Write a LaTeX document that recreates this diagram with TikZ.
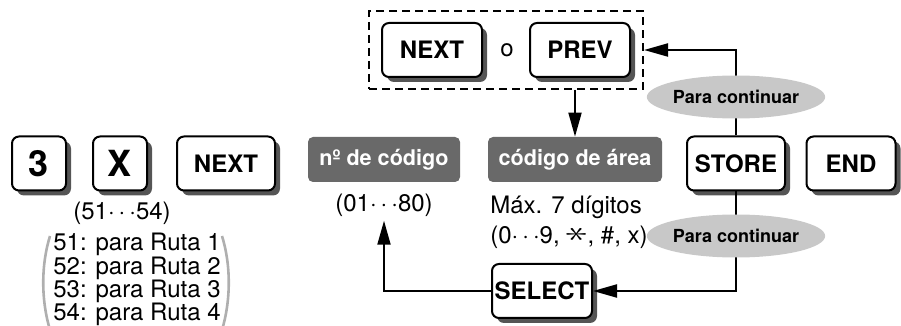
\documentclass[tikz,border=0pt]{standalone}
\usepackage{graphicx}
\usepackage{fontspec}
\setmainfont{TeX Gyre Heros}
\usetikzlibrary{positioning,arrows.meta,shadows,fit,shapes.geometric}
\definecolor{keyshadow}{RGB}{85,85,85}
\definecolor{fieldgray}{RGB}{105,105,105}
\definecolor{notegray}{RGB}{200,200,200}
\definecolor{parengray}{RGB}{175,175,175}
\newcommand{\starkey}{\raisebox{0.15ex}{\scalebox{1.9}[1.35]{\rotatebox[origin=c]{90}{$\ast$}}}}

\begin{document}
\begin{tikzpicture}[x=0.5pt,y=-0.5pt,
  >={Triangle[length=12pt,width=6.5pt]},
  key/.style={draw,line width=1pt,rounded corners=3.5pt,fill=white,minimum height=27pt,inner sep=0pt,
    font=\fontsize{12}{14}\selectfont\bfseries,
    drop shadow={shadow xshift=2.5pt,shadow yshift=-2.5pt,fill=keyshadow,opacity=1}},
  bigkey/.style={key,minimum width=27pt,font=\fontsize{18}{20}\selectfont\bfseries},
  field/.style={fill=fieldgray,text=white,rounded corners=2.5pt,minimum height=22.5pt,inner sep=0pt,
    font=\fontsize{10.8}{12}\selectfont\bfseries},
  note/.style={ellipse,fill=notegray,minimum width=71.5pt,minimum height=21.5pt,inner sep=0pt,
    font=\fontsize{9}{10}\selectfont\bfseries},
  txt/.style={font=\fontsize{12}{14}\selectfont,inner sep=0pt},
  flow/.style={line width=1pt},
  paren/.style={parengray,line width=1.3pt}
]
\useasboundingbox (0,0) rectangle (901,326);

% keys of the main row
\node[bigkey] (k3) at (39,163.5) {3};
\node[bigkey] (kx) at (120,163.5) {X};
\node[key,minimum width=49pt] (knext) at (226,163.5) {NEXT};
\node[field,minimum width=76pt] (code) at (384,159.5) {nº de código};
\node[field,minimum width=87pt] (area) at (575,159.5) {código de área};
\node[key,minimum width=49pt] (store) at (736,163.5) {STORE};
\node[key,minimum width=44.5pt] (kend) at (851,163.5) {END};

% choice NEXT o PREV
\node[key,minimum width=50pt] (nexttop) at (432,50) {NEXT};
\node[txt] (or) at (507,50) {o};
\node[key,minimum width=50pt] (prev) at (580,50) {PREV};
\node[draw,dashed,line width=1pt,dash pattern=on 4pt off 2.5pt,fit=(nexttop)(prev),
      inner xsep=6pt,inner ysep=5.5pt] (choice) {};

\node[key,minimum width=50pt] (select) at (542,291) {SELECT};

% texts under the keys
\node[txt] (range) at (122,213) {(51$\cdots$54)};
\node[txt,align=left,anchor=north west,font=\fontsize{12}{11.65}\selectfont] (list) at (53,233)
  {51: para Ruta 1\\52: para Ruta 2\\53: para Ruta 3\\54: para Ruta 4};
\draw[paren] (50,236) .. controls (41,265) and (41,300) .. (50,330);
\draw[paren] (222,236) .. controls (231,265) and (231,300) .. (222,330);
\node[txt,inner sep=2pt] (codeval) at (384,205) {(01$\cdots$80)};
\node[txt,align=left,anchor=north west,font=\fontsize{12}{15}\selectfont] (digits) at (490,196)
  {Máx. 7 dígitos\\(0$\cdots$9, \starkey, \#, x)};

% connectors
\draw[flow,->] (choice.south -| area.north) -- (area.north);
\draw[flow,->] (store.north) |- (choice.east);
\draw[flow,->] (store.south) |- (select.east);
\draw[flow,->] (select.west) -| (codeval.south);

\node[note] (goon1) at (736,97) {Para continuar};
\node[note] (goon2) at (736,236) {Para continuar};
\end{tikzpicture}
\end{document}
